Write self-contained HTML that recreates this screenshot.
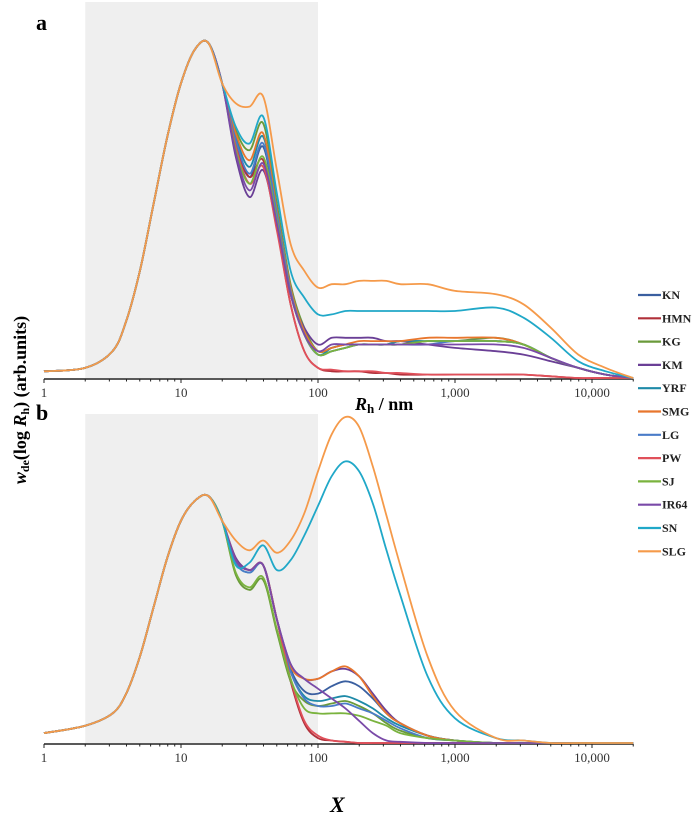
<!DOCTYPE html>
<html><head><meta charset="utf-8"><style>
html,body{margin:0;padding:0;background:#fff;}
svg{display:block;font-family:"Liberation Serif",serif;}
</style></head><body>
<svg id="chart" width="700" height="817" viewBox="0 0 700 817" xmlns="http://www.w3.org/2000/svg">
<g id="bg"></g><g id="axes"></g><g id="lines"></g><g id="legend"></g>
<text x="36" y="30" font-size="22" font-weight="bold">a</text>
<text x="36" y="420" font-size="22" font-weight="bold">b</text>
<text x="355" y="410" font-size="18" font-weight="bold"><tspan font-style="italic">R</tspan><tspan font-size="13" dy="3">h</tspan><tspan dy="-3"> / nm</tspan></text>
<text x="330" y="812" font-size="22" font-weight="bold" font-style="italic">X</text>
<text transform="translate(26,400) rotate(-90)" text-anchor="middle" font-size="18" font-weight="bold"><tspan font-style="italic">w</tspan><tspan font-size="12" dy="3">de</tspan><tspan dy="-3">(log </tspan><tspan font-style="italic">R</tspan><tspan font-size="12" dy="3">h</tspan><tspan dy="-3">) (arb.units)</tspan></text>
</svg>
<script>
const names=["KN","HMN","KG","KM","YRF","SMG","LG","PW","SJ","IR64","SN","SLG"];
const colors=["#3a5fa0","#b0303a","#6a9a3a","#6a3f96","#1e8aa8","#e8762d","#4a7cc8","#e0505a","#7ab33e","#7a4aa8","#20a8c8","#f59a4a"];
const grid=[0,0.3,0.5,0.6,0.7,0.8,0.9,1.0,1.1,1.2,1.3,1.4,1.5,1.6,1.7,1.8,1.9,2.0,2.1,2.2,2.3,2.4,2.5,2.6,2.8,3.0,3.3,3.5,3.7,3.9,4.1,4.3];
const tickVals=[1,10,100,1000,10000];
const tickLabels=["1","10","100","1,000","10,000"];
const riseA=[0.02,0.03,0.08,0.17,0.32,0.52,0.72,0.88,0.98,1.0,0.88];
const riseB=[0.04,0.07,0.12,0.2,0.35,0.55,0.75,0.9,0.98,1.0,0.9];
const tailA=[
[0.70,0.60,0.69,0.48,0.26,0.13,0.07,0.08,0.09,0.10,0.10,0.10,0.10,0.11,0.11,0.11,0.10,0.06,0.03,0.01,0],
[0.70,0.60,0.65,0.45,0.22,0.08,0.03,0.02,0.02,0.02,0.015,0.015,0.01,0.01,0.01,0.01,0.01,0.005,0,0,0],
[0.74,0.68,0.76,0.52,0.28,0.15,0.08,0.09,0.10,0.10,0.10,0.10,0.11,0.11,0.11,0.12,0.10,0.06,0.03,0.01,0],
[0.66,0.54,0.62,0.45,0.25,0.15,0.10,0.12,0.12,0.12,0.12,0.11,0.11,0.10,0.09,0.08,0.07,0.05,0.03,0.01,0],
[0.72,0.63,0.72,0.50,0.27,0.14,0.07,0.09,0.10,0.10,0.10,0.10,0.11,0.11,0.11,0.11,0.10,0.06,0.03,0.01,0],
[0.73,0.65,0.73,0.50,0.27,0.14,0.08,0.09,0.10,0.11,0.11,0.11,0.11,0.12,0.12,0.12,0.10,0.06,0.03,0.01,0],
[0.71,0.61,0.70,0.49,0.26,0.13,0.07,0.08,0.09,0.10,0.10,0.10,0.10,0.10,0.11,0.11,0.10,0.06,0.03,0.01,0],
[0.69,0.58,0.63,0.44,0.22,0.08,0.03,0.025,0.02,0.02,0.02,0.015,0.015,0.01,0.01,0.01,0.01,0.005,0,0,0],
[0.68,0.58,0.66,0.47,0.25,0.13,0.07,0.08,0.09,0.10,0.10,0.10,0.10,0.11,0.11,0.11,0.10,0.06,0.03,0.01,0],
[0.67,0.56,0.64,0.46,0.25,0.13,0.08,0.10,0.10,0.10,0.10,0.10,0.10,0.10,0.10,0.10,0.09,0.06,0.03,0.01,0],
[0.75,0.70,0.78,0.55,0.32,0.24,0.19,0.19,0.20,0.20,0.20,0.20,0.20,0.20,0.20,0.21,0.18,0.12,0.05,0.02,0],
[0.82,0.81,0.84,0.62,0.40,0.32,0.27,0.28,0.28,0.29,0.29,0.29,0.28,0.28,0.26,0.25,0.22,0.15,0.07,0.03,0]];
const tailB=[
[0.74,0.70,0.72,0.50,0.30,0.21,0.20,0.23,0.25,0.23,0.18,0.12,0.08,0.03,0.01,0,0,0,0,0,0],
[0.74,0.70,0.72,0.50,0.25,0.08,0.02,0.01,0.005,0,0,0,0,0,0,0,0,0,0,0,0],
[0.68,0.62,0.66,0.45,0.25,0.17,0.15,0.16,0.17,0.15,0.12,0.08,0.05,0.02,0.01,0,0,0,0,0,0],
[0.75,0.70,0.72,0.50,0.32,0.26,0.26,0.29,0.30,0.27,0.20,0.13,0.08,0.03,0.01,0,0,0,0,0,0],
[0.73,0.69,0.72,0.50,0.29,0.19,0.17,0.18,0.19,0.17,0.14,0.10,0.07,0.03,0.01,0,0,0,0,0,0],
[0.74,0.70,0.72,0.50,0.31,0.26,0.26,0.29,0.31,0.27,0.19,0.12,0.08,0.03,0.01,0,0,0,0,0,0],
[0.73,0.69,0.72,0.50,0.29,0.18,0.15,0.15,0.16,0.14,0.12,0.09,0.06,0.02,0.01,0,0,0,0,0,0],
[0.74,0.70,0.72,0.50,0.26,0.09,0.03,0.01,0.005,0,0,0,0,0,0,0,0,0,0,0,0],
[0.69,0.63,0.67,0.46,0.26,0.14,0.12,0.12,0.12,0.11,0.09,0.07,0.04,0.02,0.01,0,0,0,0,0,0],
[0.74,0.70,0.72,0.50,0.32,0.26,0.22,0.18,0.14,0.09,0.04,0.01,0.005,0,0,0,0,0,0,0,0],
[0.72,0.73,0.80,0.70,0.74,0.84,0.96,1.08,1.14,1.10,0.97,0.78,0.60,0.27,0.10,0.02,0.01,0,0,0,0],
[0.82,0.78,0.82,0.77,0.82,0.93,1.10,1.25,1.32,1.28,1.12,0.92,0.72,0.35,0.13,0.02,0.01,0,0,0,0]];

const NS="http://www.w3.org/2000/svg";
const X0=44,DEC=137;
function xs(v){return X0+Math.log10(v)*DEC;}
function xl(l){return X0+l*DEC;}
const panels=[{base:378,h:335,top:2,rise:riseA,tail:tailA,id:"a"},{base:743,h:247,top:414,rise:riseB,tail:tailB,id:"b"}];
function mk(tag,attrs,parent){const e=document.createElementNS(NS,tag);for(const k in attrs)e.setAttribute(k,attrs[k]);parent.appendChild(e);return e;}
function pathFrom(pts){let d="M"+pts[0][0].toFixed(1)+","+pts[0][1].toFixed(1);
for(let i=0;i<pts.length-1;i++){const p0=pts[Math.max(0,i-1)],p1=pts[i],p2=pts[i+1],p3=pts[Math.min(pts.length-1,i+2)];
const c1=[p1[0]+(p2[0]-p0[0])/6,p1[1]+(p2[1]-p0[1])/6],c2=[p2[0]-(p3[0]-p1[0])/6,p2[1]-(p3[1]-p1[1])/6];
d+="C"+c1[0].toFixed(1)+","+c1[1].toFixed(1)+" "+c2[0].toFixed(1)+","+c2[1].toFixed(1)+" "+p2[0].toFixed(1)+","+p2[1].toFixed(1);}
return d;}
const bg=document.getElementById("bg"),axes=document.getElementById("axes"),lines=document.getElementById("lines"),leg=document.getElementById("legend");
panels.forEach(p=>{
  const r=mk("rect",{x:xs(2),y:p.top,width:xs(100)-xs(2),height:p.base-p.top,fill:"#efefef"},bg);
  
  
  const ax=mk("line",{x1:X0,x2:xs(20000),y1:p.base+1,y2:p.base+1,stroke:"#222","stroke-width":1.5},axes);
  
  
  for(let dec=1;dec<=10000;dec*=10){for(let m=1;m<10;m++){const v=dec*m;if(v>20000)break;
    const t=mk("line",{x1:xs(v),x2:xs(v),y1:p.base+1,y2:p.base+(m===1?5:3.5),stroke:"#222","stroke-width":1},axes);
    
    }}
  tickVals.forEach((v,i)=>{const t=mk("text",{x:xs(v),y:p.base+19,"text-anchor":"middle","font-size":13,fill:"#333"},axes);t.textContent=tickLabels[i];
    
    });
  p.tail.forEach((tl,si)=>{
    const vals=p.rise.concat(tl);
    const pts=grid.map((g,i)=>[xl(g),p.base-vals[i]*p.h]);
    const path=mk("path",{d:pathFrom(pts),fill:"none",stroke:colors[si],"stroke-width":1.8,"stroke-linejoin":"round"},lines);
    
    
  });
});
names.forEach((n,i)=>{const y=295+i*23.3;
  const g=mk("g",{},leg);
  
  
  mk("line",{x1:638,x2:661,y1:y,y2:y,stroke:colors[i],"stroke-width":2.2},g);
  const t=mk("text",{x:662,y:y+4,"font-size":12,"font-weight":"bold",fill:"#222"},g);t.textContent=n;});
</script>
</body></html>
